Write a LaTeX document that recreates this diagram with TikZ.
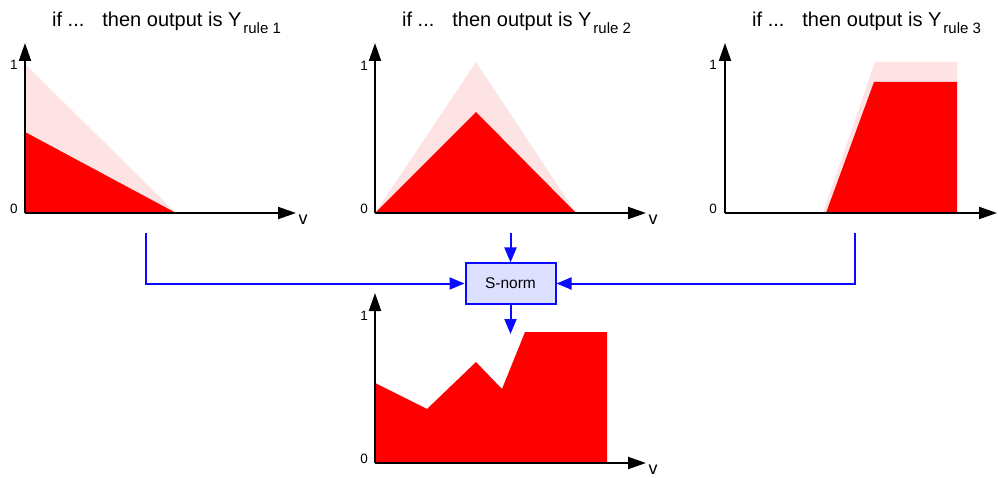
\documentclass[tikz,border=0pt]{standalone}
\usepackage{fontspec}
\setmainfont{Liberation Sans}
\usetikzlibrary{arrows.meta}
\definecolor{pinkfill}{HTML}{FDE3E3}
\definecolor{redfill}{HTML}{FF0000}
\definecolor{boxfill}{HTML}{DDE0FF}
\definecolor{lineblue}{HTML}{0A0AFF}
\tikzset{
  axis/.style={draw=black,line width=2pt,-{Triangle[length=18pt,width=12pt]}},
  conn/.style={draw=lineblue,line width=2pt,-{Triangle[length=15pt,width=12pt]}},
  titletext/.style={anchor=base west,inner sep=0pt,font=\fontsize{20}{22}\selectfont},
  ticklbl/.style={inner sep=0pt,font=\fontsize{13.5}{14}\selectfont},
  vlbl/.style={inner sep=0pt,font=\fontsize{18}{18}\selectfont},
  normbox/.style={draw=lineblue,line width=2pt,fill=boxfill,minimum width=90pt,minimum height=40pt,inner sep=0pt,font=\fontsize{15.5}{16}\selectfont}
}
\newcommand{\ruletitle}[1]{if ...\hspace{18pt}then output is Y\hspace{2pt}\raisebox{-7pt}{\fontsize{15}{15}\selectfont rule #1}}
\begin{document}
\begin{tikzpicture}[x=1pt,y=-1pt]
\useasboundingbox (0,0) rectangle (998,478);

% titles
\node[titletext] (t1) at (52,27) {\ruletitle{1}};
\node[titletext] (t2) at (402,27) {\ruletitle{2}};
\node[titletext] (t3) at (752,27) {\ruletitle{3}};

% panel 1
\fill[pinkfill] (25,64) -- (176,213) -- (25,213) -- cycle;
\fill[redfill] (25,132) -- (176,213) -- (25,213) -- cycle;
\coordinate (o1) at (25,213);
\coordinate (y1) at (25,43);
\coordinate (x1) at (296,213);
\draw[axis] (o1) -- (y1);
\draw[axis] (o1) -- (x1);
\node[ticklbl] (one1) at (14,65) {1};
\node[ticklbl] (zero1) at (14,209) {0};
\node[vlbl] (v1) at (303,220) {v};

% panel 2
\fill[pinkfill] (375,213) -- (476,62) -- (576,213) -- cycle;
\fill[redfill] (375,213) -- (476,112) -- (576,213) -- cycle;
\coordinate (o2) at (375,213);
\coordinate (y2) at (375,43);
\coordinate (x2) at (646,213);
\draw[axis] (o2) -- (y2);
\draw[axis] (o2) -- (x2);
\node[ticklbl] (one2) at (364,66) {1};
\node[ticklbl] (zero2) at (364,209) {0};
\node[vlbl] (v2) at (653,220) {v};

% panel 3
\fill[pinkfill] (823,213) -- (875,62) -- (957,62) -- (957,213) -- cycle;
\fill[redfill] (826,213) -- (874,82) -- (957,82) -- (957,213) -- cycle;
\coordinate (o3) at (725,213);
\coordinate (y3) at (725,43);
\coordinate (x3) at (997,213);
\draw[axis] (o3) -- (y3);
\draw[axis] (o3) -- (x3);
\node[ticklbl] (one3) at (713,65) {1};
\node[ticklbl] (zero3) at (713,209) {0};

% result panel
\fill[redfill] (375,383) -- (427,409) -- (476,362) -- (502,389) -- (525,332) -- (607,332) -- (607,463) -- (375,463) -- cycle;
\coordinate (o4) at (375,463);
\coordinate (y4) at (375,293);
\coordinate (x4) at (646,463);
\draw[axis] (o4) -- (y4);
\draw[axis] (o4) -- (x4);
\node[ticklbl] (one4) at (364,316) {1};
\node[ticklbl] (zero4) at (364,459) {0};
\node[vlbl] (v4) at (653,470) {v};

% S-norm block and connectors
\node[normbox] (snorm) at (510.5,283.5) {S-norm};
\coordinate (in1) at (146,233);
\coordinate (in2) at (510.5,233);
\coordinate (in3) at (855,233);
\coordinate (out) at (510.5,334);
\draw[conn] (in1) |- (snorm.west);
\draw[conn] (in3) |- (snorm.east);
\draw[conn] (in2) -- (snorm.north);
\draw[conn] (snorm.south) -- (out);
\end{tikzpicture}
\end{document}
